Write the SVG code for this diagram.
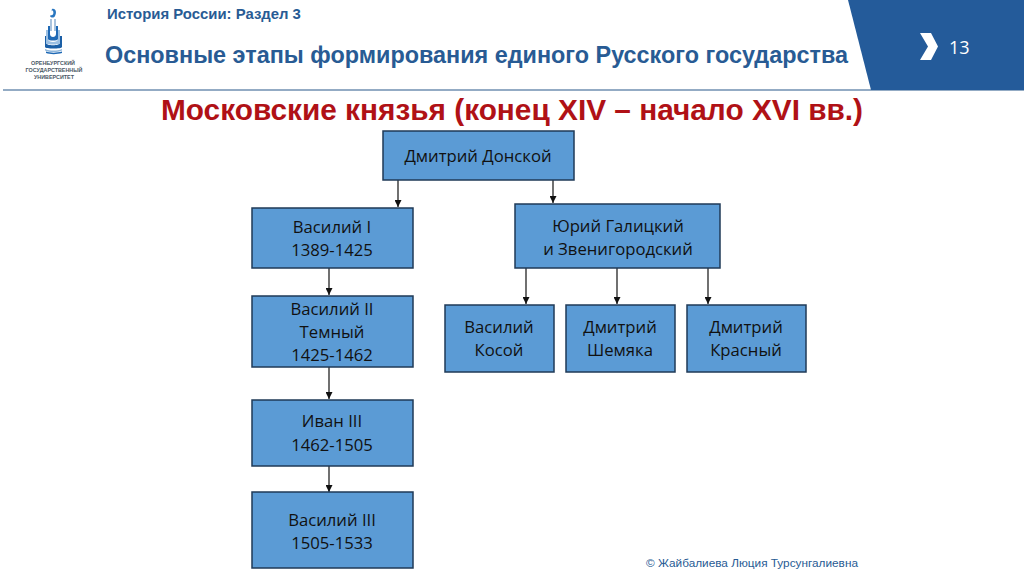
<svg xmlns="http://www.w3.org/2000/svg" width="1024" height="576" viewBox="0 0 1024 576">
<style>
.box{fill:#5b9bd5;stroke:#1f3a57;stroke-width:1.5}
.t{font-family:"Open Sans","Noto Sans",sans-serif;font-size:16.700px;fill:#111;text-anchor:middle}
.c{fill:none;stroke:#111;stroke-width:1.2;marker-end:url(#a)}
.h{font-family:"Liberation Sans",Arial,sans-serif;font-weight:bold;fill:#285b94}
.u{font-family:"Liberation Sans",Arial,sans-serif;font-weight:bold;font-size:5.400px;fill:#4a5866;text-anchor:middle}
</style>
<defs><marker id="a" markerUnits="userSpaceOnUse" markerWidth="8" markerHeight="7" refX="7" refY="3.500" orient="auto"><path d="M0 0L7 3.500L0 7Z" fill="#111"/></marker></defs>
<rect width="1024" height="576" fill="#fff"/>
<g id="header">
<path d="M3 90H1024" stroke="#6f8fb0" stroke-width="1.500"/>
<path d="M848 0H1024V90H871Z" fill="#245b9a"/>
<path d="M920 33H931L938 46.500L931 60H920L928 46.500Z" fill="#fff"/>
<text x="949" y="54" font-family="'Open Sans',sans-serif" font-size="18" fill="#fff">13</text>
<text class="h" x="107" y="19" font-size="14.900">История России: Раздел 3</text>
<text class="h" x="105" y="63" font-size="23.400">Основные этапы формирования единого Русского государства</text>
</g>
<g id="logo">
<path d="M52 9C56 8 57 13 55 16C54 18 51 18 50 16L51 15C53 16 54 13 53 11C52 10 51 11 51 12Z" fill="#2a77c0"/>
<path d="M50 19H52V31H50ZM54 19H56V31H54Z" fill="#a9c3de"/>
<path d="M48 26H50V34C50 38 56 38 56 34V26H58V39C58 41 48 41 48 39Z" fill="#1f69b5"/>
<path d="M46 30H48V39C48 43 58 43 58 39V30H60V43C60 45 46 45 46 43Z" fill="#9cc0e3"/>
<path d="M45 36H46V43C46 46 60 46 60 43V36H62V47C62 49 45 49 45 47Z" fill="#1b5fa6"/>
<path d="M45 49C50 51 57 51 62 49V50.500C57 52.500 50 52.500 45 50.500Z" fill="#8eb6dc"/>
<path d="M46 51.500C50 53 57 53 62 51.500V53C57 54.500 50 54.500 46 53Z" fill="#1f69b5"/>
<text class="u" x="53" y="65">ОРЕНБУРГСКИЙ</text>
<text class="u" x="54" y="72">ГОСУДАРСТВЕННЫЙ</text>
<text class="u" x="54" y="79">УНИВЕРСИТЕТ</text>
</g>
<text x="512" y="120" font-family="'Liberation Sans',Arial,sans-serif" font-weight="bold" font-size="29.800" fill="#b01116" text-anchor="middle">Московские князья (конец XIV – начало XVI вв.)</text>
<g id="connectors">
<path class="c" d="M398 180V207"/>
<path class="c" d="M553 180V203"/>
<path class="c" d="M329 268V295"/>
<path class="c" d="M329 367V399"/>
<path class="c" d="M329 466V492"/>
<path class="c" d="M526 268V304"/>
<path class="c" d="M617 268V304"/>
<path class="c" d="M708 268V304"/>
</g>
<g id="n1"><rect class="box" x="383" y="131" width="191" height="49"/><text class="t" x="478" y="162">Дмитрий Донской</text></g>
<g id="n2"><rect class="box" x="252" y="208" width="161" height="60"/><text class="t" x="332" y="233">Василий I</text><text class="t" x="332" y="256">1389-1425</text></g>
<g id="n3"><rect class="box" x="515" y="204" width="205" height="64"/><text class="t" x="618" y="232">Юрий Галицкий</text><text class="t" x="618" y="255">и Звенигородский</text></g>
<g id="n4"><rect class="box" x="252" y="296" width="161" height="71"/><text class="t" x="332" y="315">Василий II</text><text class="t" x="332" y="338">Темный</text><text class="t" x="332" y="361">1425-1462</text></g>
<g id="n5"><rect class="box" x="252" y="400" width="161" height="66"/><text class="t" x="332" y="427">Иван III</text><text class="t" x="332" y="451">1462-1505</text></g>
<g id="n6"><rect class="box" x="252" y="492" width="161" height="76"/><text class="t" x="332" y="526">Василий III</text><text class="t" x="332" y="549">1505-1533</text></g>
<g id="n7"><rect class="box" x="445" y="305" width="109" height="67"/><text class="t" x="499" y="333">Василий</text><text class="t" x="499" y="356">Косой</text></g>
<g id="n8"><rect class="box" x="566" y="305" width="109" height="67"/><text class="t" x="620" y="333">Дмитрий</text><text class="t" x="620" y="356">Шемяка</text></g>
<g id="n9"><rect class="box" x="687" y="305" width="119" height="67"/><text class="t" x="746" y="333">Дмитрий</text><text class="t" x="746" y="356">Красный</text></g>
<text x="646" y="567" font-family="'Liberation Sans',Arial,sans-serif" font-size="11.800" fill="#285b94">© Жайбалиева Люция Турсунгалиевна</text>
</svg>
